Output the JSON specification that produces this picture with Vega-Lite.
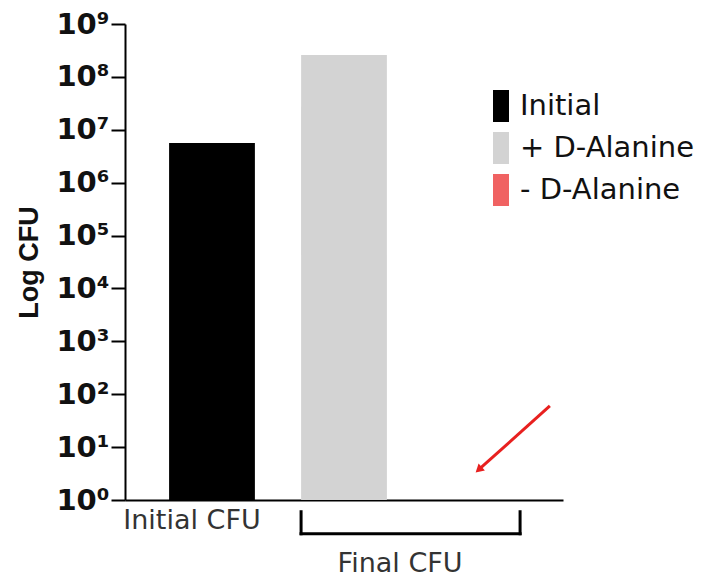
{
  "$schema": "https://vega.github.io/schema/vega-lite/v6.json",
  "width": 438,
  "height": 476,
  "autosize": {"type": "none"},
  "padding": {"left": 125, "top": 24, "right": 152, "bottom": 80},
  "background": "white",
  "config": {"view": {"stroke": null}},
  "datasets": {
    "bars": [
      {"group": "Initial", "cfu": 5600000},
      {"group": "+ D-Alanine", "cfu": 260000000},
      {"group": "- D-Alanine", "cfu": 1}
    ],
    "bracket": [
      {"x": 0.402, "x2": 0.902, "y": 0.23, "y2": 0.23},
      {"x": 0.402, "x2": 0.402, "y": 0.23, "y2": 0.6},
      {"x": 0.902, "x2": 0.902, "y": 0.23, "y2": 0.6}
    ],
    "arrow": [
      {"x": 0.970, "y": 60, "x2": 0.8075, "y2": 3.74}
    ],
    "labels": [
      {"x": 0.628, "y": 0.0617, "text": "Final CFU"}
    ]
  },
  "layer": [
    {
      "data": {"name": "bars"},
      "mark": {"type": "bar"},
      "encoding": {
        "x": {
          "field": "group", "type": "nominal", "sort": null,
          "scale": {"paddingInner": 0.35, "paddingOuter": 0.334},
          "axis": {
            "title": null, "ticks": false, "domainColor": "black", "domainWidth": 2,
            "labelAngle": 0, "labelFont": "DejaVu Sans", "labelFontSize": 27, "labelColor": "#333",
            "labelPadding": 7, "labelBaseline": "top", "labelOffset": -20,
            "labelExpr": "datum.label == 'Initial' ? 'Initial CFU' : ''"
          }
        },
        "y": {
          "field": "cfu", "type": "quantitative",
          "scale": {"type": "log", "domain": [1, 1000000000], "nice": false},
          "axis": {
            "title": "Log CFU", "grid": false,
            "values": [1, 10, 100, 1000, 10000, 100000, 1000000, 10000000, 100000000, 1000000000],
            "labelExpr": "'10' + ['⁰','¹','²','³','⁴','⁵','⁶','⁷','⁸','⁹'][round(log(datum.value)/LN10)]",
            "labelFont": "DejaVu Sans", "labelFontWeight": "bold", "labelFontSize": 29, "labelColor": "#111",
            "labelPadding": 2, "tickSize": 14, "tickWidth": 2, "tickColor": "black",
            "domainColor": "black", "domainWidth": 2,
            "titleFont": "Liberation Sans", "titleFontWeight": "bold", "titleFontSize": 27, "titleColor": "#111",
            "titlePadding": 12
          }
        },
        "y2": {"datum": 1},
        "color": {
          "field": "group", "type": "nominal", "sort": null,
          "scale": {"domain": ["Initial", "+ D-Alanine", "- D-Alanine"], "range": ["#000000", "#d3d3d3", "#f06262"]},
          "legend": {
            "orient": "none", "legendX": 360, "legendY": 66, "title": null,
            "symbolType": "M-0.5,-1 h1 v2 h-1 Z", "symbolSize": 1024, "symbolStrokeWidth": 0,
            "labelFont": "DejaVu Sans", "labelFontSize": 29, "labelColor": "#111", "labelLimit": 400,
            "labelOffset": 3, "rowPadding": 10
          }
        }
      }
    },
    {
      "data": {"name": "bracket"},
      "mark": {"type": "rule", "color": "black", "strokeWidth": 3, "strokeCap": "square"},
      "encoding": {
        "x": {"field": "x", "type": "quantitative", "scale": {"domain": [0, 1], "nice": false}, "axis": null},
        "x2": {"field": "x2"},
        "y": {"field": "y", "type": "quantitative"},
        "y2": {"field": "y2"}
      }
    },
    {
      "data": {"name": "arrow"},
      "mark": {"type": "rule", "color": "#e8201f", "strokeWidth": 3},
      "encoding": {
        "x": {"field": "x", "type": "quantitative", "scale": {"domain": [0, 1], "nice": false}, "axis": null},
        "x2": {"field": "x2"},
        "y": {"field": "y", "type": "quantitative"},
        "y2": {"field": "y2"}
      }
    },
    {
      "data": {"name": "arrow"},
      "mark": {"type": "point", "shape": "triangle-up", "filled": true, "color": "#e8201f", "opacity": 1, "size": 90, "angle": 228},
      "encoding": {
        "x": {"field": "x2", "type": "quantitative", "scale": {"domain": [0, 1], "nice": false}, "axis": null},
        "y": {"field": "y2", "type": "quantitative"}
      }
    },
    {
      "data": {"name": "labels"},
      "mark": {"type": "text", "font": "DejaVu Sans", "fontSize": 27, "color": "#333", "align": "center", "baseline": "middle"},
      "encoding": {
        "x": {"field": "x", "type": "quantitative", "scale": {"domain": [0, 1], "nice": false}, "axis": null},
        "y": {"field": "y", "type": "quantitative"},
        "text": {"field": "text"}
      }
    }
  ],
  "resolve": {"scale": {"x": "independent"}}
}
